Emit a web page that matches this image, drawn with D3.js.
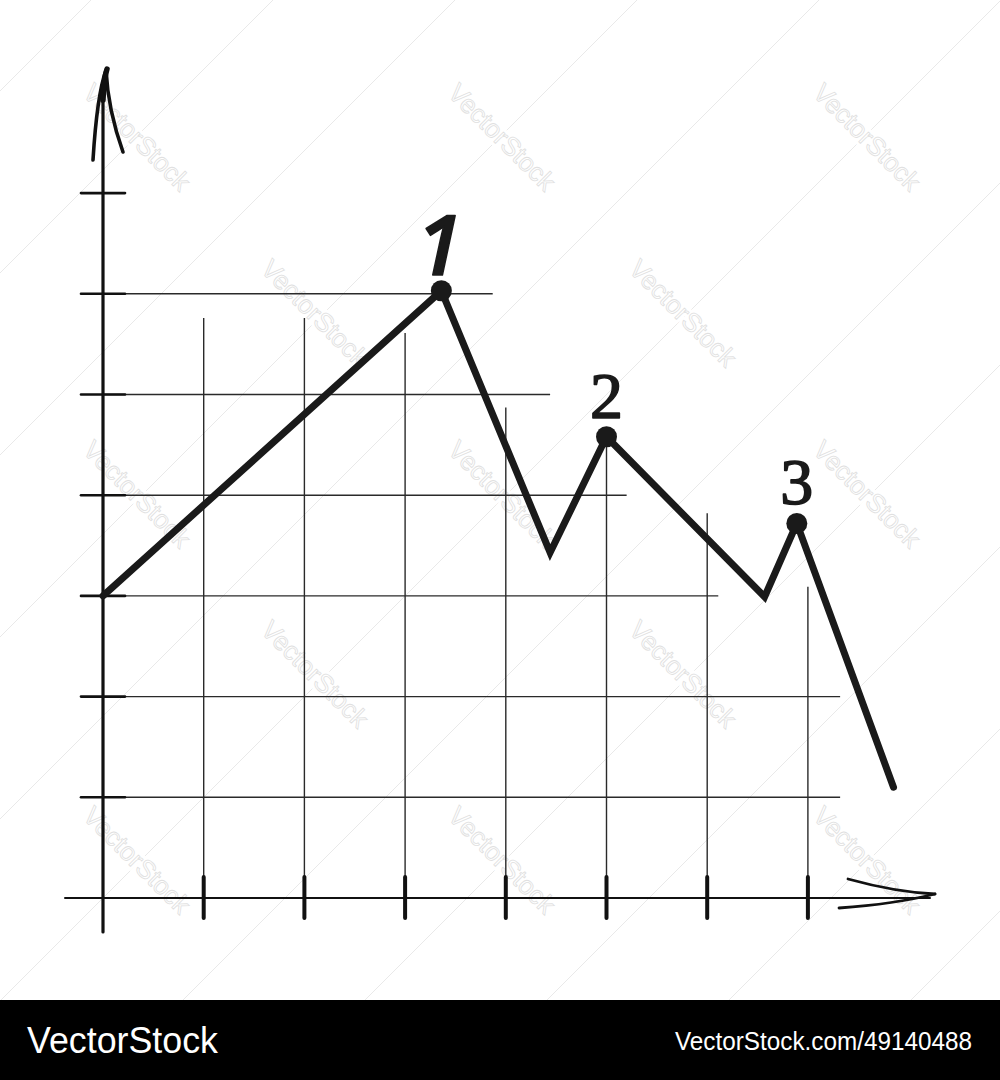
<!DOCTYPE html>
<html>
<head>
<meta charset="utf-8">
<script src="https://cdn.jsdelivr.net/npm/d3@7"></script>
<style>
  html, body { margin: 0; padding: 0; background: #fff; }
  svg { display: block; }
</style>
</head>
<body>
<svg id="chart" width="1000" height="1080"></svg>
<script>
// ---- data ----
const xValues = [0, 3.36, 4.44, 5.0, 6.57, 6.89, 7.85];
const yValues = [3.0, 6.03, 3.43, 4.58, 2.99, 3.72, 1.10];
const peakIndex = [1, 3, 5];
const peakLabels = ["1", "2", "3"];
const xTicks = [1, 2, 3, 4, 5, 6, 7];
const yTicks = [1, 2, 3, 4, 5, 6, 7];
// horizontal grid lines (at y value) end at these x values
const hGridY = [1, 2, 3, 4, 5, 6];
const hGridEnd = [7.32, 7.32, 6.11, 5.2, 4.44, 3.87];
// vertical grid lines (at x value) start at these y values
const vGridX = [1, 2, 3, 4, 5, 6, 7];
const vGridTop = [5.76, 5.76, 5.61, 4.87, 4.5, 3.82, 3.09];
const footerLeft = "VectorStock";
const footerRight = "VectorStock.com/49140488";
const watermarkText = "VectorStock";

const svg = d3.select("#chart");
const x = d3.scaleLinear().domain([0, 8]).range([103, 908.6]);
const y = d3.scaleLinear().domain([0, 8]).range([898, 92.4]);

// ---- faint watermark background ----
const wm = svg.append("g");
const diagC = d3.range(-1, 12).map(k => 273 + 182 * k);
wm.selectAll("line.diag").data(diagC).join("line")
  .attr("x1", c => c - 1000).attr("y1", 1000)
  .attr("x2", c => c).attr("y2", 0)
  .attr("stroke", "#e6e6e6").attr("stroke-width", 0.9);
const wmPos = [];
const rowsY = [137, 313, 494, 674, 860];
rowsY.forEach((ry, r) => {
  const xs = (r % 2 === 0) ? [137, 502, 867] : [315, 683];
  xs.forEach(cx => wmPos.push([cx, ry]));
});
const wmG = wm.selectAll("g.wm").data(wmPos).join("g")
  .attr("transform", d => `translate(${d[0]},${d[1]}) rotate(45)`);
wmG.append("text").text(watermarkText)
  .attr("text-anchor", "middle").attr("dy", "0.35em")
  .attr("font-family", "Liberation Sans, Arial, sans-serif").attr("font-size", 26)
  .attr("fill", "#fff").attr("stroke", "#fff").attr("stroke-width", 7);
wmG.append("text").text(watermarkText)
  .attr("text-anchor", "middle").attr("dy", "0.35em")
  .attr("font-family", "Liberation Sans, Arial, sans-serif").attr("font-size", 26)
  .attr("fill", "#fff").attr("stroke", "#e0e0e0").attr("stroke-width", 0.8);

// ---- grid ----
const grid = svg.append("g");
grid.selectAll("line.h").data(hGridY).join("line")
  .attr("x1", x(0)).attr("x2", (d, i) => x(hGridEnd[i]))
  .attr("y1", d => y(d)).attr("y2", d => y(d))
  .attr("stroke", "#2a2a2a").attr("stroke-width", 1.4);
grid.selectAll("line.v").data(vGridX).join("line")
  .attr("x1", d => x(d)).attr("x2", d => x(d))
  .attr("y1", (d, i) => y(vGridTop[i])).attr("y2", y(0))
  .attr("stroke", "#2a2a2a").attr("stroke-width", 1.4);

// ---- axes ----
const ax = svg.append("g").attr("stroke", "#111").attr("fill", "none").attr("stroke-linecap", "round");
// x axis
ax.append("line").attr("x1", 65).attr("x2", 930).attr("y1", y(0)).attr("y2", y(0)).attr("stroke-width", 2);
ax.append("path").attr("d", "M848,879 Q895,892 935,894").attr("stroke-width", 2.8);
ax.append("path").attr("d", "M839,908 Q895,904 935,894").attr("stroke-width", 2.8);
ax.selectAll("line.xt").data(xTicks).join("line")
  .attr("x1", d => x(d)).attr("x2", d => x(d))
  .attr("y1", 877).attr("y2", 918).attr("stroke-width", 4);
// y axis
ax.append("line").attr("x1", x(0)).attr("x2", x(0)).attr("y1", 932).attr("y2", 90).attr("stroke-width", 3.2);
ax.append("path").attr("d", "M93,160 Q97,95 106,70 Q108,110 123,152").attr("stroke-width", 3.6);
ax.append("path").attr("d", "M103,100 Q104,78 107,69").attr("stroke-width", 5.5);
ax.selectAll("line.yt").data(yTicks).join("line")
  .attr("x1", 81).attr("x2", 125)
  .attr("y1", d => y(d)).attr("y2", d => y(d)).attr("stroke-width", 2.6);

// ---- data line ----
const pts = xValues.map((v, i) => [v, yValues[i]]);
svg.append("path").datum(pts)
  .attr("d", d3.line().x(d => x(d[0])).y(d => y(d[1])))
  .attr("fill", "none").attr("stroke", "#1a1a1a").attr("stroke-width", 7)
  .attr("stroke-linejoin", "miter").attr("stroke-linecap", "round");
svg.selectAll("circle.peak").data(peakIndex).join("circle")
  .attr("cx", i => x(xValues[i])).attr("cy", i => y(yValues[i])).attr("r", 10.5)
  .attr("fill", "#1a1a1a");

// ---- labels ----
svg.selectAll("text.lbl").data(peakIndex).join("text")
  .text((d, k) => peakLabels[k])
  .attr("x", (i, k) => x(xValues[i]) + (k === 0 ? -2 : 0))
  .attr("y", (i, k) => y(yValues[i]) - (k === 0 ? 16 : 19))
  .attr("text-anchor", "middle")
  .attr("font-family", (d, k) => k === 0 ? "Open Sans, Noto Sans, sans-serif" : "Liberation Serif, Times New Roman, serif")
  .attr("font-style", (d, k) => k === 0 ? "italic" : "normal")
  .attr("font-weight", (d, k) => k === 0 ? 600 : 400)
  .attr("font-size", (d, k) => k === 0 ? 84 : 66)
  .attr("fill", "#1a1a1a").attr("stroke", "#1a1a1a")
  .attr("stroke-width", (d, k) => k === 0 ? 1.5 : 1.6)
  .attr("stroke-linejoin", "round");

// ---- footer ----
svg.append("rect").attr("x", 0).attr("y", 1000).attr("width", 1000).attr("height", 80).attr("fill", "#000");
svg.append("text").text(footerLeft)
  .attr("x", 27).attr("y", 1053)
  .attr("font-family", "Liberation Sans Narrow, Liberation Sans, Arial, sans-serif")
  .attr("font-size", 36).attr("fill", "#fff")
  .attr("textLength", 191).attr("lengthAdjust", "spacingAndGlyphs");
svg.append("text").text(footerRight)
  .attr("x", 675).attr("y", 1050)
  .attr("font-family", "Liberation Sans Narrow, Liberation Sans, Arial, sans-serif")
  .attr("font-size", 26).attr("fill", "#fff")
  .attr("textLength", 297).attr("lengthAdjust", "spacingAndGlyphs");
</script>
</body>
</html>
